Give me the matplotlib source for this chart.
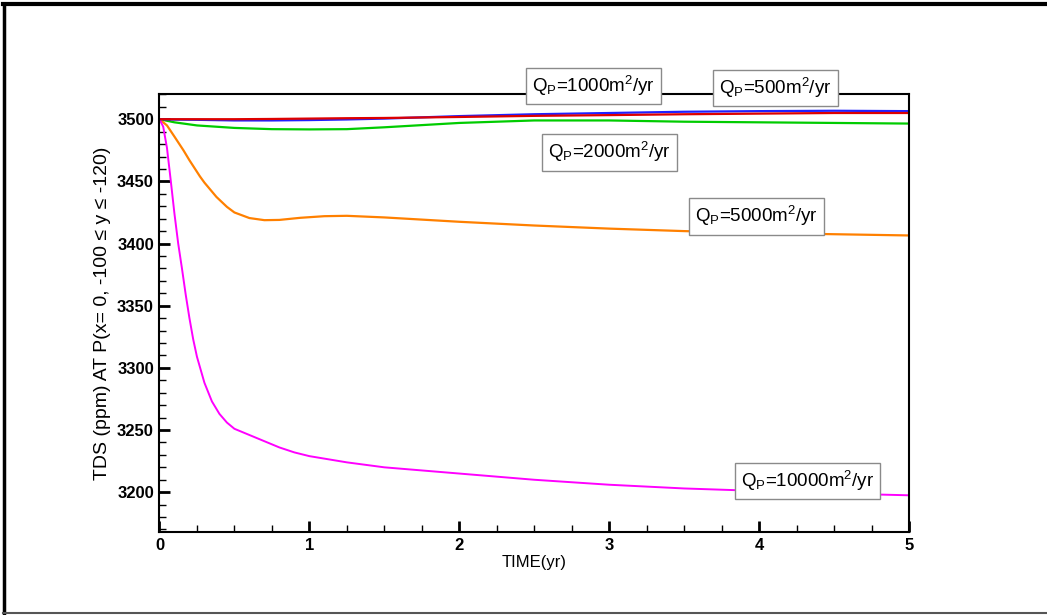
"""TDS at observation point P versus time for several pumping rates."""

import matplotlib

matplotlib.use("Agg")
import matplotlib.pyplot as plt
from matplotlib.lines import Line2D
from matplotlib.ticker import MultipleLocator

plt.rcParams["font.family"] = ["Liberation Sans", "DejaVu Sans"]
plt.rcParams["mathtext.default"] = "regular"

# time (yr) and TDS (ppm)
T_FAST = [0, 0.025, 0.05, 0.075, 0.1, 0.125, 0.15, 0.175, 0.2, 0.225, 0.25, 0.3,
          0.35, 0.4, 0.45, 0.5, 0.6, 0.7, 0.8, 0.9, 1.0, 1.25, 1.5, 2.0, 2.5,
          3.0, 3.5, 4.0, 4.5, 5.0]
TDS_10000 = [3500, 3494, 3477, 3451, 3424, 3400, 3380, 3359, 3340, 3323, 3309, 3288,
             3273, 3263, 3256, 3251, 3246, 3241, 3236, 3232, 3229, 3224, 3220, 3215,
             3210, 3206, 3203, 3201, 3199, 3197.5]

T_5000 = [0, 0.05, 0.1, 0.16, 0.2, 0.27, 0.3, 0.38, 0.45, 0.5, 0.6, 0.7, 0.8, 0.94,
          1.1, 1.25, 1.5, 2.0, 2.5, 3.0, 3.5, 4.0, 4.5, 5.0]
TDS_5000 = [3500, 3495, 3486, 3475, 3467, 3454, 3449, 3437.5, 3429.5, 3425, 3420.5,
            3418.8, 3419, 3420.7, 3422, 3422.3, 3421, 3417.5, 3414.5, 3412, 3410,
            3408.5, 3407.5, 3406.5]

T_SLOW = [0, 0.1, 0.25, 0.5, 0.75, 1.0, 1.25, 1.5, 2.0, 2.5, 3.0, 3.5, 4.0, 4.5, 5.0]
TDS_2000 = [3500, 3497.5, 3495, 3493, 3492, 3491.8, 3492, 3493.5, 3497, 3499, 3499,
            3498, 3497.5, 3497, 3496.5]
TDS_1000 = [3500, 3500, 3500, 3500, 3500.2, 3500.5, 3500.8, 3501, 3501.8, 3502.7,
            3503.3, 3504, 3504.5, 3505, 3505]
TDS_500 = [3500, 3499.7, 3499.5, 3499, 3499, 3499.3, 3499.8, 3500.5, 3502.5, 3504,
           3505, 3506, 3506.5, 3506.8, 3506.5]

LABELS = {
    "500": r"Q$_{P}$=500m$^{2}$/yr",
    "1000": r"Q$_{P}$=1000m$^{2}$/yr",
    "2000": r"Q$_{P}$=2000m$^{2}$/yr",
    "5000": r"Q$_{P}$=5000m$^{2}$/yr",
    "10000": r"Q$_{P}$=10000m$^{2}$/yr",
}


def main() -> None:
    fig = plt.figure(figsize=(10.47, 6.15), dpi=100)
    ax = fig.add_axes([0.1523, 0.135, 0.7159, 0.7126])

    ax.plot(T_SLOW, TDS_2000, color="#00cc00", linewidth=1.6)
    ax.plot(T_5000, TDS_5000, color="#ff8000", linewidth=1.6)
    ax.plot(T_FAST, TDS_10000, color="#ff00ff", linewidth=1.4)
    ax.plot(T_SLOW, TDS_500, color="#2020ff", linewidth=1.6)
    ax.plot(T_SLOW, TDS_1000, color="#dd0000", linewidth=1.6)

    ax.set_xlim(0, 5)
    ax.set_ylim(3168, 3520.5)
    ax.xaxis.set_major_locator(MultipleLocator(1))
    ax.xaxis.set_minor_locator(MultipleLocator(0.25))
    ax.yaxis.set_major_locator(MultipleLocator(50))
    ax.yaxis.set_minor_locator(MultipleLocator(10))
    ax.tick_params(which="major", direction="in", length=8, width=2)
    ax.tick_params(which="minor", direction="in", length=5, width=1)
    ax.tick_params(axis="both", which="major", labelsize=12, pad=4)
    for lab in ax.get_xticklabels() + ax.get_yticklabels():
        lab.set_fontweight("bold")
    for side in ("top", "right", "left", "bottom"):
        ax.spines[side].set_linewidth(1.5)

    ax.set_xlabel("TIME(yr)", fontsize=12, labelpad=2)
    ax.set_ylabel("TDS (ppm) AT P(x= 0, -100 \u2264 y \u2264 -120)",
                  fontsize=14, labelpad=4)

    box = dict(facecolor="white", edgecolor="#8a8a8a", linewidth=1.0, pad=4.5)
    places = {
        "1000": (2.897, 3526.6),
        "500": (4.11, 3525.0),
        "2000": (3.003, 3473.4),
        "5000": (3.983, 3421.8),
        "10000": (4.323, 3208.9),
    }
    for key, (x, y) in places.items():
        ax.text(x, y, LABELS[key], fontsize=13.5, ha="center", va="center",
                bbox=box, clip_on=False, zorder=5)

    # page frame
    fig.add_artist(Line2D([0.003, 1.0], [0.993, 0.993], color="black", linewidth=3,
                          transform=fig.transFigure))
    fig.add_artist(Line2D([0.004, 0.004], [0.003, 0.993], color="black", linewidth=2.5,
                          transform=fig.transFigure))
    fig.add_artist(Line2D([0.003, 1.0], [0.003, 0.003], color="#555555", linewidth=1.5,
                          transform=fig.transFigure))

    fig.savefig("out.png", dpi=100)
    plt.close(fig)


if __name__ == "__main__":
    main()
